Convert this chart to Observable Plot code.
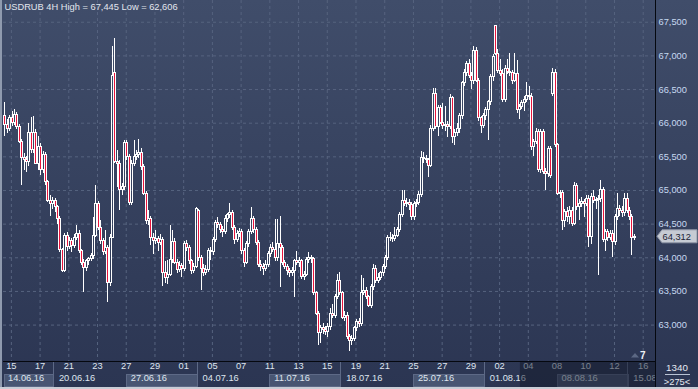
<!DOCTYPE html>
<html><head><meta charset="utf-8">
<script src="https://cdn.jsdelivr.net/npm/d3@7"></script>
<script src="https://cdn.jsdelivr.net/npm/@observablehq/plot@0.6"></script>
<style>
html,body{margin:0;padding:0;background:#2b3552;}
#chart{width:698px;height:389px;overflow:hidden;background:linear-gradient(#404d6a,#2b3552);}
#chart svg{display:block;}
</style></head><body><div id="chart"></div>
<script>
// ---- data (USDRUB 4H, bars from 14.06.16 to 15.08.16) ----
const open = [
66.10,65.98,65.92,66.08,66.00,66.12,65.94,65.72,65.48,65.45,
65.42,65.85,65.60,65.85,65.40,65.64,65.30,65.52,65.12,64.85,
64.80,64.84,64.75,64.58,64.11,63.81,64.33,64.16,64.25,64.18,
64.30,64.36,64.10,63.92,63.85,63.95,63.98,64.02,64.33,64.80,
64.45,64.25,64.08,64.15,63.63,64.30,66.75,65.42,65.40,65.00,
65.05,65.70,65.50,64.82,65.40,65.50,65.52,65.55,65.35,64.95,
64.55,64.58,64.30,64.25,64.28,64.22,64.27,63.78,63.70,63.75,
63.96,64.23,63.93,63.82,63.88,63.84,64.20,64.15,63.95,63.80,
63.86,64.70,64.00,63.84,63.78,63.82,64.10,64.08,64.26,64.51,
64.48,64.41,64.38,64.58,64.63,64.67,64.45,64.26,64.35,64.38,
64.10,63.93,64.20,64.38,64.58,64.41,64.22,63.90,63.86,63.83,
63.90,64.05,64.15,64.12,63.99,64.20,64.15,63.93,63.86,63.80,
63.77,63.80,63.95,63.92,63.95,63.72,63.75,63.96,64.00,63.98,
63.47,63.17,62.88,62.95,62.93,62.90,62.97,63.17,63.14,63.41,
63.66,63.47,63.11,63.14,62.82,62.77,62.80,62.95,63.04,63.02,
63.48,63.51,63.41,63.29,63.56,63.84,63.66,63.70,63.77,63.86,
64.00,64.29,64.30,64.28,64.33,64.41,64.63,64.85,64.80,64.82,
64.78,64.60,64.80,64.82,64.93,65.49,65.47,65.45,65.37,65.92,
66.44,65.94,66.22,66.01,65.96,65.97,65.95,66.37,65.79,65.85,
65.92,66.11,66.59,66.75,66.88,66.70,66.63,67.08,66.63,66.07,
65.96,66.10,66.20,66.31,66.68,67.44,67.03,66.78,66.73,66.34,
66.81,66.76,66.74,66.63,66.73,66.19,66.24,66.30,66.34,66.41,
66.39,65.64,65.72,65.87,65.30,65.87,65.28,65.25,65.62,66.44,
66.75,65.67,64.95,64.97,64.55,64.68,64.60,64.70,64.50,65.07,
64.75,64.80,64.83,64.80,64.88,64.31,64.90,64.85,64.86,64.88,
65.00,64.26,64.38,64.30,64.36,64.23,64.60,64.73,64.70,64.66,
64.88,64.70,64.60,64.29];
const high = [
66.30,66.05,66.12,66.18,66.20,66.16,65.98,65.76,65.55,65.50,
66.00,66.08,66.10,65.90,65.80,65.70,65.58,65.56,65.15,64.92,
64.90,64.88,64.78,64.62,64.14,64.36,64.38,64.30,64.28,64.34,
64.48,64.40,64.12,63.98,63.98,64.00,64.06,64.60,65.07,64.84,
64.55,64.28,64.40,64.18,64.34,67.14,67.26,65.60,65.45,65.10,
65.74,65.74,65.54,65.45,65.74,65.60,65.76,65.62,65.38,64.98,
64.70,64.62,64.36,64.40,64.32,64.35,64.30,63.95,63.96,64.48,
64.40,64.28,63.98,63.94,63.92,64.24,64.26,64.18,63.98,63.92,
64.75,64.72,64.04,63.90,63.88,64.14,64.16,64.30,64.55,64.60,
64.52,64.46,64.63,64.66,64.81,64.70,64.48,64.40,64.44,64.42,
64.14,64.24,64.42,64.75,64.62,64.45,64.26,63.96,63.92,63.96,
64.10,64.20,64.22,64.57,64.57,64.62,64.18,63.96,63.90,63.84,
63.86,63.98,64.10,64.00,63.98,63.80,64.00,64.08,64.04,64.00,
63.50,63.20,63.00,63.02,62.98,63.02,63.25,63.30,63.45,63.75,
63.78,63.50,63.20,63.18,62.86,62.84,62.98,63.08,63.10,63.74,
63.69,63.56,63.44,63.60,63.90,63.88,63.76,63.80,63.90,64.04,
64.33,64.38,64.34,64.45,64.45,64.68,65.00,65.00,64.88,64.86,
64.82,64.84,64.86,64.98,65.58,65.56,65.52,65.48,65.96,66.52,
66.52,66.26,66.26,66.29,66.25,66.02,66.42,66.40,65.90,66.00,
66.15,66.62,66.80,66.92,66.94,66.76,67.14,67.12,66.66,66.10,
66.14,66.24,66.34,66.72,67.02,67.445,67.10,66.95,66.80,66.86,
66.95,67.03,66.78,67.03,66.93,66.28,66.34,66.40,66.60,66.55,
66.44,65.76,65.92,65.90,65.90,65.90,65.32,65.66,65.66,66.82,
66.80,65.70,65.00,65.00,64.72,64.74,64.76,64.74,65.12,65.10,
64.86,64.90,64.86,64.92,64.92,64.96,65.00,64.90,64.92,65.15,
65.05,64.42,64.42,64.40,64.40,64.64,64.95,64.78,64.76,64.95,
64.95,64.74,64.64,64.35];
const low = [
65.80,65.85,65.88,65.95,65.96,65.90,65.70,65.07,65.30,65.27,
65.35,65.55,65.55,65.38,65.30,65.22,65.25,65.08,64.82,64.62,
64.72,64.68,64.50,64.08,63.78,63.78,64.10,64.12,64.08,64.14,
64.26,64.06,63.88,63.48,63.80,63.88,63.94,63.98,64.30,64.40,
64.20,64.04,64.05,63.34,63.58,64.28,65.40,65.05,64.70,64.92,
65.00,65.45,64.78,64.78,65.36,65.44,65.48,65.30,64.92,64.50,
64.48,64.18,64.05,64.20,64.10,64.18,63.58,63.62,63.60,63.72,
63.92,63.90,63.76,63.78,63.70,63.80,64.10,63.90,63.75,63.76,
63.84,63.95,63.51,63.72,63.74,63.78,63.96,64.04,64.22,64.44,
64.36,64.30,64.34,64.52,64.58,64.40,64.20,64.22,64.30,64.05,
63.85,63.90,64.16,64.34,64.36,64.18,63.86,63.80,63.74,63.80,
63.86,64.00,64.08,63.95,63.95,63.56,63.88,63.82,63.74,63.70,
63.72,63.41,63.88,63.86,63.68,63.66,63.72,63.92,63.92,63.44,
63.14,62.70,62.73,62.86,62.84,62.82,62.92,63.10,63.10,63.38,
63.44,63.08,63.06,62.78,62.61,62.70,62.76,62.90,62.96,62.98,
63.44,63.38,63.26,63.24,63.52,63.62,63.62,63.66,63.72,63.82,
63.96,64.24,64.22,64.24,64.30,64.38,64.60,64.76,64.74,64.70,
64.55,64.56,64.74,64.78,64.90,65.40,65.40,65.20,65.34,65.88,
65.90,65.80,65.98,65.90,65.88,65.78,65.90,65.70,65.67,65.80,
65.84,66.06,66.54,66.70,66.66,66.50,66.58,66.60,66.02,65.85,
65.92,66.04,65.74,66.26,66.62,67.00,66.74,66.70,66.30,66.30,
66.72,66.70,66.58,66.60,66.15,66.05,66.20,66.18,66.30,66.34,
65.60,65.50,65.68,65.26,65.25,65.24,65.00,65.20,65.18,66.40,
65.64,64.92,64.88,64.40,64.45,64.52,64.50,64.46,64.48,64.70,
64.56,64.74,64.60,64.76,64.15,64.20,64.80,64.72,63.74,64.82,
64.22,64.10,64.24,64.26,64.00,64.18,64.56,64.62,64.60,64.62,
64.66,64.56,64.03,64.25];
const close = [
65.98,65.92,66.08,66.00,66.12,65.94,65.72,65.48,65.45,65.42,
65.85,65.60,65.85,65.40,65.64,65.30,65.52,65.12,64.85,64.80,
64.84,64.75,64.58,64.11,63.81,64.33,64.16,64.25,64.18,64.30,
64.36,64.10,63.92,63.85,63.95,63.98,64.02,64.33,64.80,64.45,
64.25,64.08,64.15,63.63,64.30,66.70,65.42,65.40,65.00,65.05,
65.70,65.50,64.82,65.40,65.50,65.52,65.55,65.35,64.95,64.55,
64.58,64.30,64.25,64.28,64.22,64.27,63.78,63.70,63.75,63.96,
64.23,63.93,63.82,63.88,63.84,64.20,64.15,63.95,63.80,63.86,
64.73,64.00,63.84,63.78,63.82,64.10,64.08,64.26,64.51,64.48,
64.41,64.38,64.58,64.63,64.67,64.45,64.26,64.35,64.38,64.10,
63.93,64.20,64.38,64.58,64.41,64.22,63.90,63.86,63.83,63.90,
64.05,64.15,64.12,63.99,64.20,64.15,63.93,63.86,63.80,63.77,
63.80,63.95,63.92,63.95,63.72,63.75,63.96,64.00,63.98,63.47,
63.17,62.88,62.95,62.93,62.90,62.97,63.17,63.14,63.41,63.66,
63.47,63.11,63.14,62.82,62.77,62.80,62.95,63.04,63.02,63.48,
63.51,63.41,63.29,63.56,63.84,63.66,63.70,63.77,63.86,64.00,
64.29,64.30,64.28,64.33,64.41,64.63,64.85,64.80,64.82,64.78,
64.60,64.80,64.82,64.93,65.49,65.47,65.45,65.37,65.92,66.44,
65.94,66.22,66.01,65.96,65.97,65.95,66.37,65.79,65.85,65.92,
66.11,66.59,66.75,66.88,66.70,66.63,67.08,66.63,66.07,65.96,
66.10,66.20,66.31,66.68,66.98,67.03,66.78,66.73,66.34,66.81,
66.76,66.74,66.63,66.73,66.19,66.24,66.30,66.34,66.41,66.39,
65.64,65.72,65.87,65.30,65.87,65.28,65.25,65.62,65.22,66.75,
65.67,64.95,64.97,64.55,64.68,64.60,64.70,64.50,65.07,64.75,
64.80,64.83,64.80,64.88,64.31,64.90,64.85,64.86,64.88,65.00,
64.26,64.38,64.30,64.36,64.23,64.60,64.73,64.70,64.66,64.88,
64.70,64.60,64.29,64.312];

const priceTicks = [63, 63.5, 64, 64.5, 65, 65.5, 66, 66.5, 67, 67.5];
// trading-day index (0 = 14.06.16) of each day tick, and its label
const dayTickDays   = [1,3,5,7,9,11,13,15,17,19,21,23,25,27,29,31,33,35,37,39,41,43,45];
const dayTickLabels = ["15","17","21","23","27","29","01","05","07","11","13","15","19","21","25","27","29","02","04","08","10","12","16"];
const weekStartDays = [0,4,9,14,19,24,29,34,39,44];
const weekLabels    = ["14.06.16","20.06.16","27.06.16","04.07.16","11.07.16","18.07.16","25.07.16","01.08.16","08.08.16","15.08"];
const titleText = "USDRUB 4H High = 67,445 Low = 62,606";
const lastPrice = 64.312;
const barsPerDay = 6;
const firstSlot = 3;           // first bar is the 4th 4H slot of 14.06
const shadeFromSlot = 218.7;   // darkened part of the time scale

// ---- style ----
const W = 698, H = 389, mL = 3, mR = 43, mT = 0, mB = 28;
const xDomain = [2.716, 275.14], yDomain = [62.459, 67.823];
const FONT = "'Liberation Sans', Arial, sans-serif";
const FS = 9.3;
const red = "#e8143c";
const gridColor = "#56637f";
const axisText = "#c6d8f0";
const labelText = "#dfe5ef";
const fmt = v => v.toFixed(3).replace(".", ",");

// x scale (same as the plot's) used to snap candle columns to whole pixels
const xs = Plot.scale({x: {type: "linear", domain: xDomain, range: [mL, W - mR]}});
const bars = open.map((o, i) => {
  const t = i + firstSlot + 0.5;
  const cx = Math.round(xs.apply(t) - 0.5);
  const c = close[i];
  return {o, h: high[i], l: low[i], c, top: Math.max(o, c), bot: Math.min(o, c),
    a: xs.invert(cx - 1), b: xs.invert(cx), m: xs.invert(cx + 1), n: xs.invert(cx + 2)};
});
const upBars = bars.filter(d => d.c >= d.o);
const downBars = bars.filter(d => d.c < d.o);
const CR = {shapeRendering: "crispEdges"};

const plot = Plot.plot({
  width: W, height: H,
  marginLeft: mL, marginRight: mR, marginTop: mT, marginBottom: mB,
  style: {background: "transparent", fontFamily: FONT, fontSize: FS + "px", overflow: "visible"},
  x: {type: "linear", domain: xDomain, axis: null},
  y: {type: "linear", domain: yDomain},
  marks: [
    Plot.ruleY(priceTicks, {y: d => d, stroke: gridColor, strokeDasharray: "3,3"}),
    Plot.ruleX(dayTickDays, {x: d => d * barsPerDay, stroke: gridColor, strokeDasharray: "3,3"}),
    // bearish candles: white wick + white body with red core
    Plot.rect(downBars, {x1: "b", x2: "m", y1: "l", y2: "h", fill: "white", ...CR}),
    Plot.rect(downBars, {x1: "a", x2: "n", y1: "top", y2: "bot", fill: "white", insetTop: -0.5, insetBottom: -0.5, ...CR}),
    Plot.rect(downBars, {x1: "b", x2: "m", y1: "top", y2: "bot", fill: red, insetTop: 0.5, insetBottom: 0.5, ...CR}),
    // bullish candles: hollow white body
    Plot.rect(upBars, {x1: "b", x2: "m", y1: "top", y2: "h", fill: "white", insetBottom: -0.5, ...CR}),
    Plot.rect(upBars, {x1: "b", x2: "m", y1: "l", y2: "bot", fill: "white", insetTop: -0.5, ...CR}),
    Plot.rect(upBars, {x1: "a", x2: "b", y1: "top", y2: "bot", fill: "white", insetTop: -0.5, insetBottom: -0.5, ...CR}),
    Plot.rect(upBars, {x1: "m", x2: "n", y1: "top", y2: "bot", fill: "white", insetTop: -0.5, insetBottom: -0.5, ...CR}),
    Plot.axisY(priceTicks, {anchor: "right", tickSize: 0, tickPadding: 3, tickFormat: fmt, fill: axisText, fontSize: FS, label: null, textAnchor: "start"}),
    Plot.text(dayTickDays, {x: d => d * barsPerDay, frameAnchor: "bottom", dy: 7, text: (d, i) => dayTickLabels[i], fill: labelText, fontSize: FS}),
    Plot.text(weekStartDays, {x: d => Math.max(d * barsPerDay, xDomain[0]), frameAnchor: "bottom", dy: 19, dx: 4.5, textAnchor: "start", text: (d, i) => weekLabels[i], fill: labelText, fontSize: FS}),
    Plot.text([titleText], {frameAnchor: "top-left", dx: 1, dy: 3, lineAnchor: "top", text: d => d, fill: "#e2e6ee", fontSize: FS})
  ]
});

document.getElementById("chart").appendChild(plot);

// ---- decorations of the time scale and price panel ----
const svg = d3.select(plot);
const sx = plot.scale("x"), sy = plot.scale("y");
const X = v => sx.apply(v), Y = v => sy.apply(v);
const right = W - mR;     // 655
const bottom = H - mB;    // 361

const under = svg.insert("g", ":first-child");
weekStartDays.forEach((d, i) => {
  if (i % 2 !== 0) return;
  const x1 = Math.max(X(d * barsPerDay), mL + 1);
  const nd = i + 1 < weekStartDays.length ? weekStartDays[i + 1] : d + 5;
  const x2 = Math.min(X(nd * barsPerDay), right);
  under.append("rect").attr("x", Math.round(x1) + 0.5).attr("y", 374.5)
    .attr("width", Math.round(x2 - x1) - 1).attr("height", 12)
    .attr("fill", "#485572").attr("stroke", "#5d6986");
  under.append("line").attr("x1", Math.round(x2) - 0.5).attr("x2", Math.round(x2) - 0.5)
    .attr("y1", 362).attr("y2", 387).attr("stroke", "#5d6986");
});

const over = svg.append("g").attr("text-anchor", "start");
const shadeX = X(shadeFromSlot);
over.append("rect").attr("x", shadeX).attr("y", bottom + 1).attr("width", right - shadeX).attr("height", H - bottom - 3)
  .attr("fill", "rgba(18,24,40,0.5)");
over.append("line").attr("x1", 3).attr("x2", right).attr("y1", bottom + 0.5).attr("y2", bottom + 0.5).attr("stroke", "#05080f");
over.append("rect").attr("x", right + 0.5).attr("y", bottom + 1).attr("width", W - right).attr("height", H - bottom - 1).attr("fill", "#2c3653");
over.append("line").attr("x1", right + 0.5).attr("x2", right + 0.5).attr("y1", 0).attr("y2", H).attr("stroke", "#05080f");
over.append("rect").attr("x", 0).attr("y", 0).attr("width", 2).attr("height", H).attr("fill", "#8f9aae");
over.append("rect").attr("x", 0).attr("y", H - 2).attr("width", W).attr("height", 2).attr("fill", "#c9cdd6");
over.append("text").attr("x", 677).attr("y", 370.5).attr("text-anchor", "middle")
  .attr("font-family", FONT).attr("font-size", FS + 0.5).attr("fill", "#e6eaf2").text("1340");
over.append("line").attr("x1", 665).attr("x2", 690).attr("y1", 374.5).attr("y2", 374.5).attr("stroke", "#b8c2d4");
over.append("text").attr("x", 677).attr("y", 384.5).attr("text-anchor", "middle")
  .attr("font-family", FONT).attr("font-size", FS).attr("fill", "#e6eaf2").text(">275<");
over.append("path").attr("d", "M631,357.5 L635,353 L639,357.5 Z").attr("fill", "#5c6884");
over.append("text").attr("x", 640).attr("y", 359).attr("text-anchor", "start").attr("font-family", FONT).attr("font-weight", "bold")
  .attr("font-size", 10).attr("fill", "#eef1f6").text("7");
const yc = Y(lastPrice);
over.append("path")
  .attr("d", `M657,${yc} L662,${yc - 6.5} L697,${yc - 6.5} L697,${yc + 6.5} L662,${yc + 6.5} Z`)
  .attr("fill", "#c6cbd4").attr("stroke", "#8e96a6");
over.append("text").attr("x", 662.5).attr("y", yc).attr("dy", "0.35em").attr("text-anchor", "start")
  .attr("font-family", FONT).attr("font-size", FS).attr("fill", "#1b2334").text(fmt(lastPrice));
</script>
</body></html>
